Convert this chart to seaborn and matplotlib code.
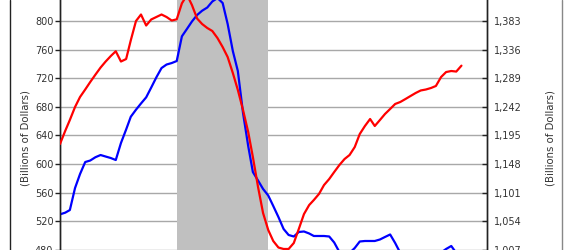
import numpy as np
import pandas as pd
import matplotlib
matplotlib.use("Agg")
import matplotlib.pyplot as plt
from matplotlib.lines import Line2D
import seaborn as sns

# ---- data (monthly, Jan 2006 onwards) ----
start_date = "2006-01-01"
blue_values = [529.5, 531.8, 535.5, 566.3, 585.9, 602.7, 604.8, 609.4, 612.5, 610.4,
               608.3, 605.5, 629.3, 648.2, 666.1, 675.9, 684.6, 693.2, 706.8, 721.2,
               734.2, 739.1, 741.2, 744.0, 778.6, 789.2, 799.3, 808.4, 814.4, 818.9,
               827.3, 832.2, 825.2, 795.8, 758.0, 730.0, 671.3, 625.1, 588.7, 576.8,
               565.0, 555.8, 541.2, 525.7, 509.0, 500.6, 498.5, 504.8, 505.5, 502.7,
               499.2, 499.2, 499.2, 498.5, 490.1, 476.8, 475.4, 475.4, 482.4, 491.5,
               492.2, 492.2, 492.2, 494.3, 497.8, 501.3, 489.4, 475.4, 472.0, 470.0,
               469.0, 470.0, 471.0, 472.0, 474.0, 476.0, 481.0, 485.2, 475.4, 472.0]
red_values = [1180.8, 1202.2, 1220.3, 1241.6, 1258.1, 1270.4, 1282.7, 1294.8, 1306.5, 1316.3,
              1325.4, 1333.3, 1316.4, 1320.5, 1351.4, 1383.0, 1393.7, 1375.6, 1385.5, 1389.6,
              1393.7, 1389.6, 1383.8, 1385.8, 1412.1, 1425.8, 1409.3, 1387.1, 1378.1, 1371.5,
              1366.6, 1355.0, 1340.2, 1323.8, 1297.5, 1269.6, 1236.7, 1200.5, 1159.4, 1110.0,
              1067.3, 1039.4, 1021.3, 1010.6, 1008.2, 1008.2, 1018.0, 1041.1, 1065.6, 1080.4,
              1088.7, 1098.7, 1113.3, 1123.2, 1134.7, 1146.2, 1156.1, 1162.7, 1175.8, 1197.2,
              1210.4, 1221.9, 1210.4, 1220.3, 1230.1, 1238.4, 1246.6, 1249.9, 1254.8, 1259.7,
              1264.7, 1268.8, 1270.4, 1272.9, 1276.2, 1290.9, 1299.1, 1300.8, 1299.9, 1309.6]
left_ticks = [480, 520, 560, 600, 640, 680, 720, 760, 800]
right_ticks = [1007, 1054, 1101, 1148, 1195, 1242, 1289, 1336, 1383]
right_tick_labels = ["1,007", "1,054", "1,101", "1,148", "1,195", "1,242", "1,289", "1,336", "1,383"]
recession = ("2007-12-01", "2009-06-01")
x_range = ("2006-01-01", "2013-01-01")
ylabel = "(Billions of Dollars)"

dates_blue = pd.date_range(start_date, periods=len(blue_values), freq="MS")
dates_red = pd.date_range(start_date, periods=len(red_values), freq="MS")
df_blue = pd.DataFrame({"date": dates_blue, "value": blue_values})
df_red = pd.DataFrame({"date": dates_red, "value": red_values})

sns.set_style("white")
plt.rcParams["font.family"] = ["DejaVu Sans"]

W, H = 570, 250
AW = 427
fig = plt.figure(figsize=(W / 100, H / 100), dpi=100)
ax = fig.add_axes([60 / W, -5 / H, AW / W, 260 / H])

txt = "#333333"
grid_c = "#a8a8a8"
tick_c = "#222222"

# recession shade
ax.axvspan(pd.Timestamp(recession[0]), pd.Timestamp(recession[1]), color="#c0c0c0", lw=0, zorder=1)

sns.lineplot(data=df_blue, x="date", y="value", ax=ax, color="#0000ff", linewidth=1.6, zorder=3)

ax.set_xlim(pd.Timestamp(x_range[0]), pd.Timestamp(x_range[1]))
l0, l1 = 472.6, 836.4
ax.set_ylim(l0, l1)
ax.set_yticks(left_ticks)
ax.set_yticklabels([str(v) for v in left_ticks])
ax.yaxis.grid(True, color=grid_c, lw=1)
ax.set_axisbelow(True)
ax.set_xticks([])
ax.set_xlabel("")
ax.set_ylabel(ylabel, fontsize=7.3, color=txt)
ax.yaxis.set_label_coords((30 - 60) / AW, (255 - 137.5) / 260)
ax.tick_params(axis="y", length=3.3, width=1, color=tick_c, pad=1.5, labelsize=7, labelcolor=txt,
               left=True, direction="out")

ax2 = ax.twinx()
sns.lineplot(data=df_red, x="date", y="value", ax=ax2, color="#ff0000", linewidth=1.6, zorder=3)
# right axis scaled consistently with left ticks
def to_right(v):
    return 1007 + (v - 480) * 47 / 40
ax2.set_ylim(to_right(l0), to_right(l1))
ax2.set_yticks(right_ticks)
ax2.set_yticklabels(right_tick_labels)
ax2.set_xticks([])
ax2.set_xlabel("")
ax2.set_ylabel(ylabel, fontsize=7.3, color=txt)
ax2.yaxis.set_label_coords((545.5 - 60) / AW, (255 - 137.5) / 260)
ax2.tick_params(axis="y", length=3.6, width=1, color=tick_c, pad=5, labelsize=7, labelcolor=txt,
                right=True, direction="in")

for a in (ax, ax2):
    for s in ("top", "bottom"):
        a.spines[s].set_visible(False)
    a.spines["left"].set_color("#222222")
    a.spines["right"].set_color("#222222")
    a.spines["left"].set_linewidth(1)
    a.spines["right"].set_linewidth(1)
    a.set_xlim(pd.Timestamp(x_range[0]), pd.Timestamp(x_range[1]))

# outer frame edges of the original image
fig.add_artist(Line2D([10.5 / W, 10.5 / W], [0, 1], color="#222222", lw=1))
fig.add_artist(Line2D([561.5 / W, 561.5 / W], [0, 1], color="#888888", lw=1))

fig.savefig("out.png", dpi=100)
